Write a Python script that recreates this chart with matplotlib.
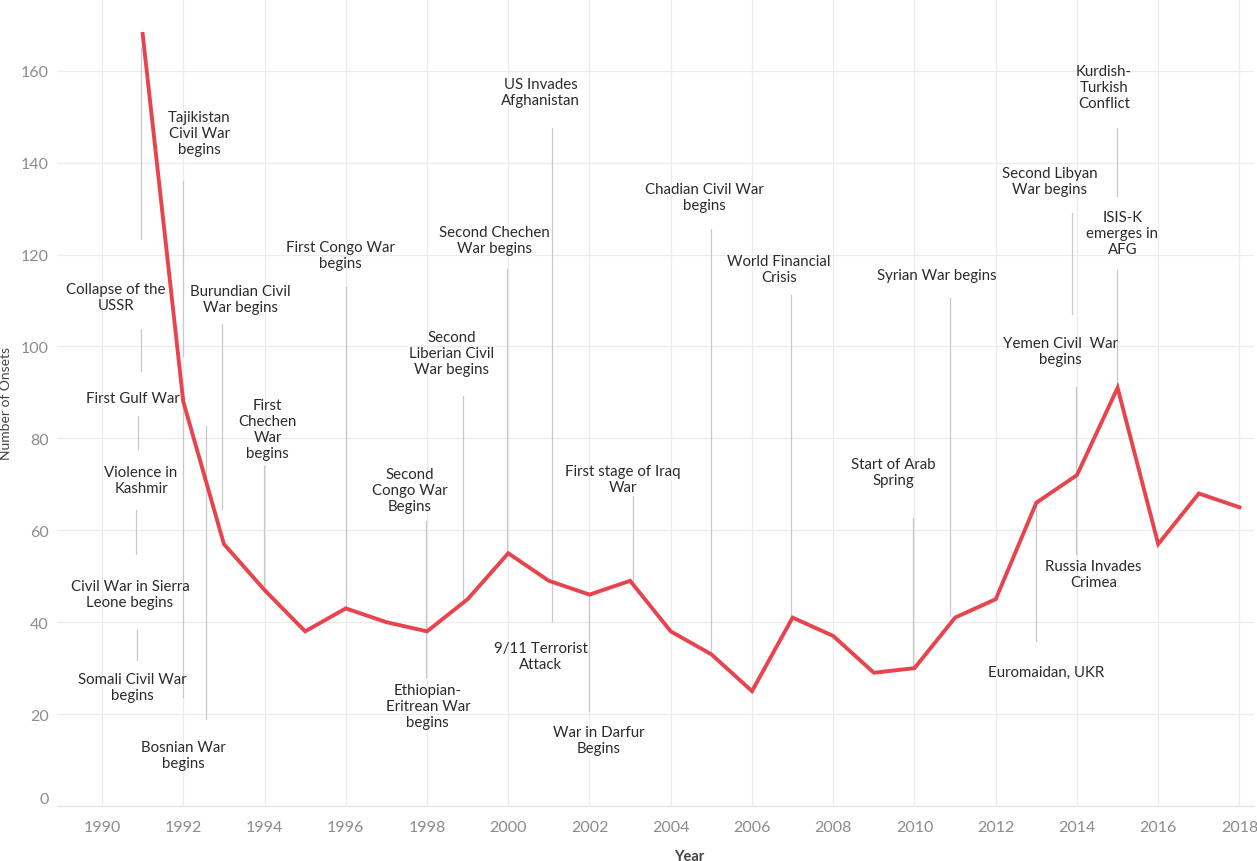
import matplotlib
matplotlib.use("Agg")
import matplotlib.pyplot as plt

plt.rcParams['font.family'] = ['Lato', 'DejaVu Sans']

years = list(range(1991, 2019))
onsets = [168, 88, 57, 47, 38, 43, 40, 38, 45, 55, 49, 46, 49, 38, 33,
          25, 41, 37, 29, 30, 41, 45, 66, 72, 91, 57, 68, 65]

# annotation labels: (text, x in years, y in onsets)
labels = [
    ("Collapse of the\nUSSR", 1990.34, 110.8),
    ("First Gulf War", 1990.76, 88.8),
    ("Violence in\nKashmir", 1990.96, 70.9),
    ("Civil War in Sierra\nLeone begins", 1990.69, 46.1),
    ("Somali Civil War\nbegins", 1990.74, 25.9),
    ("Bosnian War\nbegins", 1992.0, 11.1),
    ("Tajikistan\nCivil War\nbegins", 1992.39, 146.5),
    ("Burundian Civil\nWar begins", 1993.40, 110.3),
    ("First\nChechen\nWar\nbegins", 1994.08, 82.0),
    ("First Congo War\nbegins", 1995.86, 119.9),
    ("Second\nCongo War\nBegins", 1997.58, 68.8),
    ("Ethiopian-\nEritrean War\nbegins", 1998.02, 21.8),
    ("Second\nLiberian Civil\nWar begins", 1998.61, 98.6),
    ("Second Chechen\nWar begins", 1999.65, 123.2),
    ("US Invades\nAfghanistan", 2000.80, 155.4),
    ("9/11 Terrorist\nAttack", 2000.80, 32.6),
    ("War in Darfur\nBegins", 2002.23, 14.4),
    ("First stage of Iraq\nWar", 2002.82, 71.2),
    ("Chadian Civil War\nbegins", 2004.84, 132.5),
    ("World Financial\nCrisis", 2006.66, 116.9),
    ("Start of Arab\nSpring", 2009.49, 72.7),
    ("Syrian War begins", 2010.55, 115.6),
    ("Euromaidan, UKR", 2013.23, 29.2),
    ("Russia Invades\nCrimea", 2014.41, 50.5),
    ("Yemen Civil  War\nbegins", 2013.60, 99.0),
    ("Second Libyan\nWar begins", 2013.33, 136.0),
    ("Kurdish-\nTurkish\nConflict", 2014.66, 156.5),
    ("ISIS-K\nemerges in\nAFG", 2015.12, 124.7),
]

# leader lines: (x, y_top, y_bottom)
leaders = [
    (1990.96, 165.0, 123.4), (1990.96, 103.8, 94.7), (1990.89, 84.9, 77.7),
    (1990.84, 64.4, 54.8), (1990.86, 38.3, 31.8), (1992.0, 136.0, 97.9),
    (1992.0, 87.9, 23.7), (1992.56, 82.7, 18.9), (1992.95, 104.9, 64.6),
    (1993.99, 74.0, 47.9), (1996.0, 113.0, 42.9), (1997.97, 62.0, 28.1),
    (1998.88, 89.2, 45.0), (1999.97, 116.9, 55.3), (2001.07, 147.6, 40.3),
    (2001.98, 46.1, 20.7), (2003.07, 67.5, 49.0), (2004.99, 125.6, 33.5),
    (2006.95, 111.2, 40.9), (2009.96, 62.7, 30.3), (2010.87, 110.6, 41.3),
    (2012.98, 66.2, 35.9), (2013.97, 91.2, 54.8), (2013.89, 129.1, 107.1),
    (2014.98, 147.6, 132.8), (2014.98, 116.6, 91.2),
]

fig = plt.figure(figsize=(12.57, 8.62), dpi=100)
ax = fig.add_axes([0.0453, 0.0638, 0.9527, 0.9362])

for x, y1, y2 in leaders:
    ax.plot([x, x], [y1, y2], color="#c9c9c9", lw=0.9, zorder=2)

ax.plot(years, onsets, color="#E8444E", lw=2.8, solid_joinstyle="miter", zorder=3)

for txt, x, y in labels:
    ax.text(x, y, txt, ha="center", va="center", fontsize=10.8, color="#2b2b2b",
            linespacing=1.2, zorder=4)

ax.set_xlim(1988.89, 2018.37)
ax.set_ylim(0, 175.6)
ax.set_xticks(range(1990, 2019, 2))
ax.set_yticks(range(0, 161, 20))
ax.tick_params(length=0, labelsize=11.5, labelcolor="#8c8c8c", pad=10)
ax.tick_params(axis="y", pad=6)
ax.grid(True, color="#ececec", lw=0.9)
ax.set_axisbelow(True)
for s in ["top", "right", "left"]:
    ax.spines[s].set_visible(False)
ax.spines["bottom"].set_color("#e3e3e3")
ax.yaxis.get_major_ticks()[0].label1.set_verticalalignment("bottom")

ax.set_ylabel("Number of Onsets", fontsize=10, color="#444444", labelpad=6)
ax.set_xlabel("Year", fontsize=10.5, color="#444444", fontweight="bold", labelpad=14)
ax.xaxis.set_label_coords(0.528, -0.053)

fig.savefig("out.png", dpi=100)
